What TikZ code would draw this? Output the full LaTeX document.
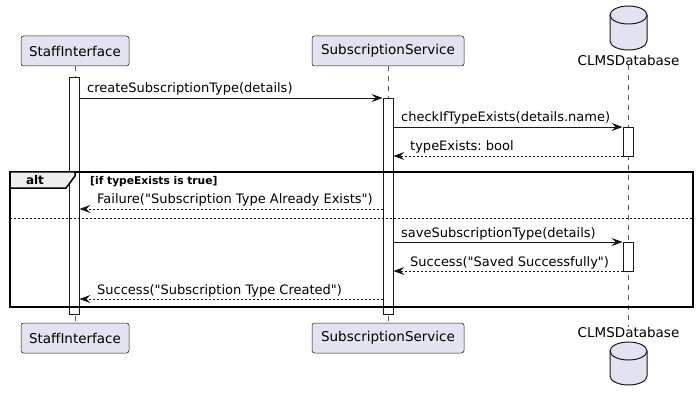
\documentclass[tikz,border=0pt]{standalone}
\usepackage{fontspec}
\setmainfont{DejaVu Sans}[Ligatures=TeXOff]
\usetikzlibrary{arrows.meta}
\frenchspacing
\definecolor{partfill}{HTML}{E2E2F0}
\definecolor{partline}{HTML}{181818}
\definecolor{tabfill}{HTML}{EEEEEE}
\tikzset{
  part/.style={draw=partline, fill=partfill, rounded corners=2.5pt, minimum height=30pt, inner sep=0pt, line width=0.5pt, font=\fontsize{13.5}{15}\selectfont},
  lifeline/.style={draw=partline!70, dash pattern=on 5pt off 5pt, line width=0.5pt},
  actbox/.style={draw=partline, fill=white, minimum width=10pt, inner sep=0pt, line width=0.8pt},
  msg/.style={draw=partline, line width=0.8pt, -{Stealth[length=11pt,width=8pt,inset=4pt]}},
  ret/.style={msg, dash pattern=on 2pt off 2pt},
  msgtext/.style={inner sep=0pt, anchor=base west, font=\fontsize{13}{15}\selectfont},
  dbcyl/.style={draw=partline, fill=partfill, line width=1pt},
  dblabel/.style={inner sep=0pt, font=\fontsize{13.5}{15}\selectfont},
  frameline/.style={draw=black, line width=1.5pt},
}
\begin{document}
\begin{tikzpicture}[x=1pt, y=-1pt]
\useasboundingbox (0,0) rectangle (699,401);
% participants
\node[part, minimum width=108pt] (siT) at (75,51) {StaffInterface};
\node[part, minimum width=108pt] (siB) at (75,338) {StaffInterface};
\node[part, minimum width=152pt] (ssT) at (388,51) {SubscriptionService};
\node[part, minimum width=152pt] (ssB) at (388,338) {SubscriptionService};
% database cylinders
\path[dbcyl] (610,15) -- (610,41) arc[start angle=180, end angle=0, x radius=18.5, y radius=9] -- (647,15) arc[start angle=0, end angle=-180, x radius=18.5, y radius=9] -- cycle;
\draw[dbcyl, fill=none] (610,15) arc[start angle=180, end angle=0, x radius=18.5, y radius=9];
\path[dbcyl] (610,351) -- (610,376) arc[start angle=180, end angle=0, x radius=18.5, y radius=9] -- (647,351) arc[start angle=0, end angle=-180, x radius=18.5, y radius=9] -- cycle;
\draw[dbcyl, fill=none] (610,351) arc[start angle=180, end angle=0, x radius=18.5, y radius=9];
\node[dblabel] (dbT) at (628.5,60) {CLMSDatabase};
\node[dblabel] (dbB) at (628.5,332) {CLMSDatabase};
% lifelines
\draw[lifeline] (siT.south) -- (siB.north);
\draw[lifeline] (ssT.south) -- (ssB.north);
\draw[lifeline] (dbT.south) -- (dbB.north);
% activations
\node[actbox, minimum height=237pt] (a1) at (74,195.5) {};
\node[actbox, minimum height=216pt] (a2) at (388,206) {};
\node[actbox, minimum height=29pt] (a3) at (628,141.5) {};
\node[actbox, minimum height=29pt] (a4) at (628,256.5) {};
% alt frame
\draw[frameline] (10,172) rectangle (693,307);
\filldraw[fill=tabfill, draw=black, line width=1.5pt] (10,172) -- (75,172) -- (75,176) -- (66,188) -- (10,188) -- cycle;
\node[inner sep=0pt, font=\bfseries\fontsize{12}{14}\selectfont] (altl) at (35,180.5) {alt};
\node[inner sep=0pt, anchor=base west, font=\bfseries\fontsize{10.7}{12}\selectfont] (cond) at (90,185) {[if typeExists is true]};
\draw[draw=black, dash pattern=on 2pt off 2pt, line width=0.8pt] (10,218) -- (693,218);
% message endpoints
\coordinate (m1s) at (a1.east |- 0,98);
\coordinate (m1e) at (a2.west |- 0,98);
\coordinate (m2s) at (a2.east |- 0,127);
\coordinate (m2e) at (a3.west |- 0,127);
\coordinate (m3s) at (a3.west |- 0,156);
\coordinate (m3e) at (a2.east |- 0,156);
\coordinate (m4s) at (a2.west |- 0,209);
\coordinate (m4e) at (a1.east |- 0,209);
\coordinate (m5s) at (a2.east |- 0,242);
\coordinate (m5e) at (a4.west |- 0,242);
\coordinate (m6s) at (a4.west |- 0,271);
\coordinate (m6e) at (a2.east |- 0,271);
\coordinate (m7s) at (a2.west |- 0,299);
\coordinate (m7e) at (a1.east |- 0,299);
\draw[msg] (m1s) -- (m1e);
\draw[msg] (m2s) -- (m2e);
\draw[ret] (m3s) -- (m3e);
\draw[ret] (m4s) -- (m4e);
\draw[msg] (m5s) -- (m5e);
\draw[ret] (m6s) -- (m6e);
\draw[ret] (m7s) -- (m7e);
% message labels
\node[msgtext] (t1) at (87,93) {createSubscriptionType(details)};
\node[msgtext] (t2) at (401,122) {checkIfTypeExists(details.name)};
\node[msgtext] (t3) at (410,151) {typeExists: bool};
\node[msgtext] (t4) at (97,204) {Failure("Subscription Type Already Exists")};
\node[msgtext] (t5) at (401,237) {saveSubscriptionType(details)};
\node[msgtext] (t6) at (410,266) {Success("Saved Successfully")};
\node[msgtext] (t7) at (97,294) {Success("Subscription Type Created")};
\end{tikzpicture}
\end{document}
